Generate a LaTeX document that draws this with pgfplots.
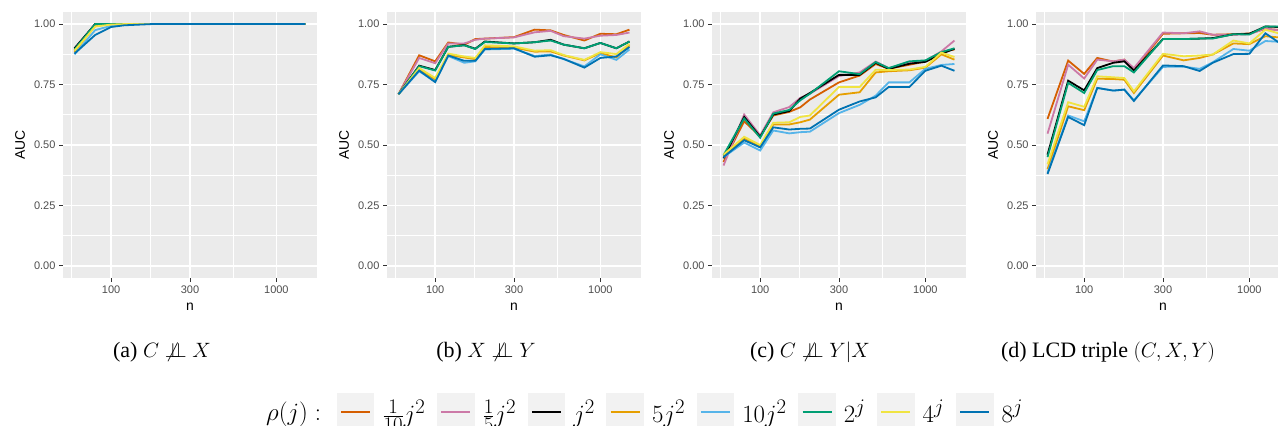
\documentclass[border=0pt]{standalone}
\usepackage[no-math]{fontspec}
\setmainfont{Liberation Serif}
\newfontfamily\ggfont{Liberation Sans}
\usepackage{pgfplots}
\usepackage{pgfplotstable}
\pgfplotsset{compat=1.18}

\definecolor{panelgrey}{HTML}{EBEBEB}
\definecolor{tickgrey}{HTML}{333333}
\definecolor{labelgrey}{HTML}{4D4D4D}
\definecolor{keygrey}{HTML}{F2F2F2}
\definecolor{cA}{HTML}{D55E00}
\definecolor{cB}{HTML}{CC79A7}
\definecolor{cC}{HTML}{000000}
\definecolor{cD}{HTML}{E69F00}
\definecolor{cE}{HTML}{56B4E9}
\definecolor{cF}{HTML}{009E73}
\definecolor{cG}{HTML}{F0E442}
\definecolor{cH}{HTML}{0072B2}

% columns: a=1/10 j^2, b=1/5 j^2, c=j^2, d=5j^2, e=10j^2, f=2^j, g=4^j, h=8^j
\pgfplotstableread{
n    a     b     c     d     e     f     g     h
60   0.893 0.890 0.900 0.885 0.875 0.895 0.890 0.878
80   1.000 1.000 1.000 0.993 0.975 1.000 0.990 0.955
100  1.000 1.000 1.000 0.999 0.993 1.000 0.998 0.988
120  1.000 1.000 1.000 1.000 0.998 1.000 1.000 0.995
150  1.000 1.000 1.000 1.000 1.000 1.000 1.000 0.998
175  1.000 1.000 1.000 1.000 1.000 1.000 1.000 1.000
200  1.000 1.000 1.000 1.000 1.000 1.000 1.000 1.000
300  1.000 1.000 1.000 1.000 1.000 1.000 1.000 1.000
400  1.000 1.000 1.000 1.000 1.000 1.000 1.000 1.000
500  1.000 1.000 1.000 1.000 1.000 1.000 1.000 1.000
600  1.000 1.000 1.000 1.000 1.000 1.000 1.000 1.000
800  1.000 1.000 1.000 1.000 1.000 1.000 1.000 1.000
1000 1.000 1.000 1.000 1.000 1.000 1.000 1.000 1.000
1250 1.000 1.000 1.000 1.000 1.000 1.000 1.000 1.000
1500 1.000 1.000 1.000 1.000 1.000 1.000 1.000 1.000
}\tA

\pgfplotstableread{
n    a     b     c     d     e     f     g     h
60   0.710 0.710 0.710 0.710 0.710 0.710 0.710 0.710
80   0.871 0.860 0.828 0.812 0.805 0.826 0.818 0.808
100  0.846 0.838 0.810 0.770 0.762 0.808 0.777 0.760
120  0.924 0.920 0.906 0.872 0.868 0.906 0.878 0.870
150  0.915 0.920 0.913 0.862 0.840 0.912 0.866 0.848
175  0.938 0.935 0.898 0.855 0.846 0.897 0.860 0.848
200  0.940 0.940 0.928 0.905 0.895 0.926 0.912 0.897
300  0.946 0.945 0.920 0.903 0.898 0.920 0.908 0.900
400  0.977 0.966 0.925 0.886 0.868 0.925 0.890 0.865
500  0.974 0.972 0.935 0.887 0.874 0.932 0.892 0.871
600  0.955 0.950 0.915 0.870 0.855 0.915 0.872 0.856
800  0.932 0.940 0.900 0.850 0.825 0.900 0.852 0.820
1000 0.960 0.952 0.922 0.880 0.875 0.922 0.884 0.860
1250 0.958 0.955 0.900 0.862 0.852 0.900 0.876 0.866
1500 0.977 0.965 0.928 0.912 0.895 0.928 0.918 0.905
}\tB

\pgfplotstableread{
n    a     b     c     d     e     f     g     h
60   0.430 0.415 0.445 0.455 0.450 0.458 0.460 0.450
80   0.598 0.626 0.616 0.526 0.510 0.610 0.534 0.520
100  0.535 0.540 0.534 0.493 0.477 0.530 0.500 0.490
120  0.622 0.635 0.626 0.585 0.560 0.630 0.592 0.573
150  0.637 0.657 0.640 0.585 0.548 0.645 0.594 0.564
175  0.656 0.695 0.692 0.594 0.553 0.685 0.616 0.567
200  0.688 0.712 0.715 0.605 0.555 0.712 0.622 0.568
300  0.759 0.785 0.790 0.708 0.632 0.805 0.740 0.646
400  0.787 0.800 0.790 0.718 0.666 0.793 0.740 0.680
500  0.835 0.845 0.840 0.800 0.704 0.843 0.811 0.697
600  0.815 0.818 0.815 0.805 0.759 0.818 0.810 0.740
800  0.832 0.840 0.836 0.809 0.759 0.846 0.812 0.740
1000 0.845 0.848 0.844 0.820 0.815 0.850 0.823 0.807
1250 0.885 0.887 0.877 0.875 0.831 0.884 0.882 0.828
1500 0.895 0.932 0.898 0.853 0.835 0.900 0.864 0.807
}\tC

\pgfplotstableread{
n    a     b     c     d     e     f     g     h
60   0.608 0.547 0.460 0.400 0.385 0.450 0.420 0.380
80   0.849 0.832 0.766 0.660 0.622 0.757 0.677 0.616
100  0.794 0.775 0.726 0.644 0.598 0.715 0.658 0.582
120  0.860 0.853 0.818 0.774 0.736 0.810 0.784 0.736
150  0.845 0.846 0.840 0.773 0.725 0.826 0.780 0.725
175  0.853 0.853 0.846 0.770 0.729 0.826 0.777 0.729
200  0.811 0.818 0.808 0.715 0.685 0.800 0.722 0.682
300  0.960 0.965 0.938 0.870 0.823 0.938 0.877 0.829
400  0.962 0.962 0.938 0.850 0.824 0.938 0.867 0.826
500  0.963 0.970 0.940 0.860 0.815 0.940 0.870 0.806
600  0.956 0.956 0.942 0.874 0.842 0.940 0.874 0.840
800  0.958 0.956 0.958 0.920 0.897 0.958 0.932 0.876
1000 0.961 0.958 0.960 0.917 0.890 0.957 0.920 0.877
1250 0.980 0.982 0.990 0.950 0.930 0.990 0.977 0.962
1500 0.976 0.974 0.988 0.945 0.927 0.990 0.962 0.925
}\tD

\pgfplotsset{
  every axis/.append style={
    width=254pt, height=266pt, scale only axis,
    anchor=south west,
    xmin=51.1, xmax=1762, ymin=-0.05, ymax=1.05,
    axis background/.style={fill=panelgrey},
    axis line style={draw=none},
    xtick={100,300,1000}, xticklabels={100,300,1000},
    ytick={0,0.25,0.5,0.75,1}, yticklabels={0.00,0.25,0.50,0.75,1.00},
    minor xtick={57.735,173.205,547.723},
    minor ytick={0.125,0.375,0.625,0.875},
    grid=both,
    major grid style={white, line width=1.4pt},
    minor grid style={white, line width=0.7pt},
    tick pos=left, tick align=outside,
    major tick length=4pt, minor tick length=0pt,
    major tick style={draw=tickgrey, line width=0.9pt},
    ticklabel style={font=\ggfont\fontsize{11}{13}\selectfont, text=labelgrey},
    xlabel={n}, ylabel={AUC},
    every axis x label/.style={at={(axis description cs:0.5,-0.109)}, anchor=center,
      font=\ggfont\fontsize{13.9}{16}\selectfont},
    every axis y label/.style={at={(axis description cs:-0.169,0.5)}, rotate=90, anchor=center,
      font=\ggfont\fontsize{13.9}{16}\selectfont},
  },
  every axis plot/.append style={line width=1.8pt, no marks},
}

\begin{document}
\begin{tikzpicture}[x=1pt,y=1pt]
\begin{semilogxaxis}[at={(63pt,148pt)},
  legend columns=-1,
  legend image code/.code={%
    \fill[keygrey] (0pt,-18pt) rectangle (36pt,18pt);
    \draw[#1, line width=2.2pt] (3.5pt,0pt) -- (32.5pt,0pt);},
  legend style={at={(axis description cs:0.7677,-0.5038)}, anchor=west,
    draw=none, fill=none, inner sep=0pt,
    font=\fontsize{27.5}{32}\selectfont,
    nodes={inner xsep=0pt, inner ysep=0pt},
    /tikz/every odd column/.append style={column sep=8pt},
    /tikz/every even column/.append style={column sep=11.5pt}},
  legend entries={$\rho(j):\,$, $\frac{1}{10}j^2$, $\frac{1}{5}j^2$, $j^2$, $5j^2$,
    $10j^2$, $2^j$, $4^j$, $8^j$},
]
\addlegendimage{empty legend}
\addplot[cA] table[x=n,y=a]{\tA};
\addplot[cB] table[x=n,y=b]{\tA};
\addplot[cC] table[x=n,y=c]{\tA};
\addplot[cD] table[x=n,y=d]{\tA};
\addplot[cE] table[x=n,y=e]{\tA};
\addplot[cF] table[x=n,y=f]{\tA};
\addplot[cG] table[x=n,y=g]{\tA};
\addplot[cH] table[x=n,y=h]{\tA};
\end{semilogxaxis}

\begin{semilogxaxis}[at={(387pt,148pt)}]
\addplot[cA] table[x=n,y=a]{\tB};
\addplot[cB] table[x=n,y=b]{\tB};
\addplot[cC] table[x=n,y=c]{\tB};
\addplot[cD] table[x=n,y=d]{\tB};
\addplot[cE] table[x=n,y=e]{\tB};
\addplot[cF] table[x=n,y=f]{\tB};
\addplot[cG] table[x=n,y=g]{\tB};
\addplot[cH] table[x=n,y=h]{\tB};
\end{semilogxaxis}

\begin{semilogxaxis}[at={(712pt,148pt)}]
\addplot[cA] table[x=n,y=a]{\tC};
\addplot[cB] table[x=n,y=b]{\tC};
\addplot[cC] table[x=n,y=c]{\tC};
\addplot[cD] table[x=n,y=d]{\tC};
\addplot[cE] table[x=n,y=e]{\tC};
\addplot[cF] table[x=n,y=f]{\tC};
\addplot[cG] table[x=n,y=g]{\tC};
\addplot[cH] table[x=n,y=h]{\tC};
\end{semilogxaxis}

\begin{semilogxaxis}[at={(1036pt,148pt)}]
\addplot[cA] table[x=n,y=a]{\tD};
\addplot[cB] table[x=n,y=b]{\tD};
\addplot[cC] table[x=n,y=c]{\tD};
\addplot[cD] table[x=n,y=d]{\tD};
\addplot[cE] table[x=n,y=e]{\tD};
\addplot[cF] table[x=n,y=f]{\tD};
\addplot[cG] table[x=n,y=g]{\tD};
\addplot[cH] table[x=n,y=h]{\tD};
\end{semilogxaxis}

\begin{scope}[every node/.style={font=\fontsize{22}{26}\selectfont, anchor=center}]
\node at (162pt,74pt) {(a) $C \not\perp\!\!\!\perp X$};
\node at (486pt,74pt) {(b) $X \not\perp\!\!\!\perp Y$};
\node at (810pt,74pt) {(c) $C \not\perp\!\!\!\perp Y|X$};
\node at (1108pt,74pt) {(d) LCD triple $(C,X,Y)$};
\end{scope}

\pgfresetboundingbox
\path[use as bounding box] (0pt,0pt) rectangle (1278pt,426pt);
\end{tikzpicture}
\end{document}
